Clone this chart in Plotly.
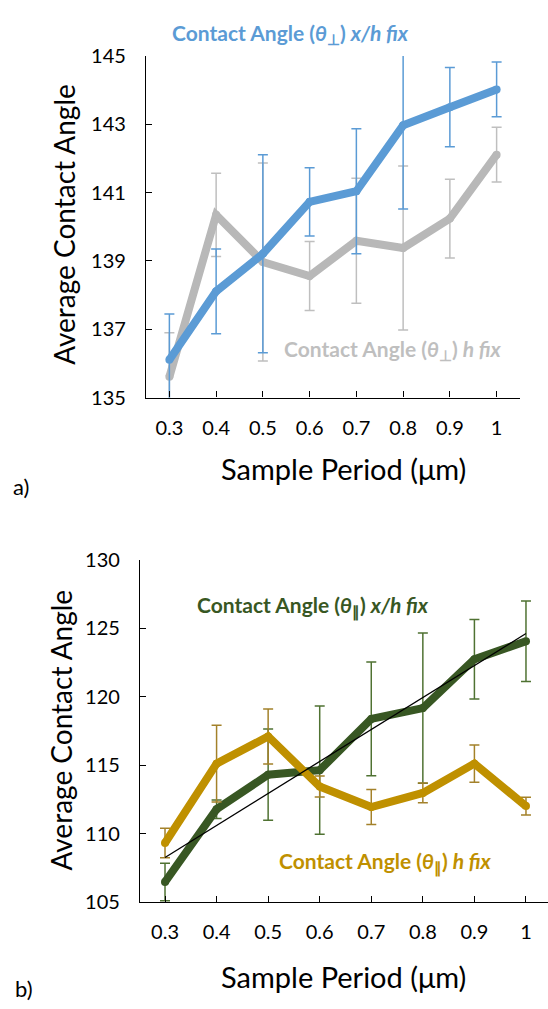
import numpy as np
import plotly.graph_objects as go

# ---------------- data ----------------
periods = [0.3, 0.4, 0.5, 0.6, 0.7, 0.8, 0.9, 1.0]
period_labels = ["0.3", "0.4", "0.5", "0.6", "0.7", "0.8", "0.9", "1"]

# (a) perpendicular contact angle
perp_xh_fix = [136.11, 138.11, 139.21, 140.73, 141.04, 142.97, 143.50, 144.02]
perp_xh_err = [1.34, 1.24, 2.90, 1.00, 1.83, 2.45, 1.16, 0.80]
perp_h_fix = [135.61, 140.35, 138.97, 138.56, 139.59, 139.38, 140.24, 142.11]
perp_h_err = [1.29, 1.22, 2.90, 1.01, 1.83, 2.40, 1.15, 0.80]

# (b) parallel contact angle
par_xh_fix = [106.48, 111.79, 114.31, 114.64, 118.38, 119.17, 122.74, 124.05]
par_xh_err = [1.37, 0.68, 3.33, 4.68, 4.15, 5.48, 2.90, 2.93]
par_h_fix = [109.33, 115.12, 117.10, 113.45, 111.95, 112.98, 115.12, 112.02]
par_h_err = [1.07, 2.80, 2.00, 0.77, 1.28, 0.72, 1.35, 0.65]

top_yticks = [135, 137, 139, 141, 143, 145]
bot_yticks = [105, 110, 115, 120, 125, 130]

# ---------------- styling ----------------
W, H = 548, 1009
FONT = "Lato"
BLUE = "#5B9BD5"
GRAY = "#B8B8B8"
GRAY_ERR = "#BFBFBF"
GREEN = "#385723"
GREEN_ERR = "#4F7232"
GOLD = "#BF9000"
GOLD_ERR = "#A3812A"


def px(x):
    return x / W


def py(y):
    return 1 - y / H


fig = go.Figure()


def add_series(xa, ya, y, err, color, err_color):
    fig.add_trace(go.Scatter(
        x=periods, y=y, xaxis=xa, yaxis=ya, mode="lines+markers",
        line=dict(color=color, width=8),
        marker=dict(color=color, size=8),
        error_y=dict(type="data", array=err, visible=True, color=err_color,
                     thickness=1.5, width=5),
        showlegend=False, hoverinfo="skip",
    ))


# top chart
add_series("x", "y", perp_h_fix, perp_h_err, GRAY, GRAY_ERR)
add_series("x", "y", perp_xh_fix, perp_xh_err, BLUE, BLUE)
# bottom chart
add_series("x2", "y2", par_xh_fix, par_xh_err, GREEN, GREEN_ERR)
add_series("x2", "y2", par_h_fix, par_h_err, GOLD, GOLD_ERR)

# linear trendline of the x/h fix parallel series
slope, intercept = np.polyfit(periods, par_xh_fix, 1)
trend_x = [periods[0], periods[-1]]
trend_y = [slope * v + intercept for v in trend_x]
fig.add_trace(go.Scatter(
    x=trend_x, y=trend_y, xaxis="x2", yaxis="y2", mode="lines",
    line=dict(color="black", width=1.3), showlegend=False, hoverinfo="skip",
))

axis_common = dict(
    showline=True, linecolor="black", linewidth=1.3, mirror=False,
    ticks="inside", ticklen=6, tickwidth=1.3, tickcolor="black",
    showgrid=False, zeroline=False,
    tickfont=dict(family=FONT, size=20, color="black"),
)

fig.update_layout(
    width=W, height=H,
    margin=dict(l=0, r=0, t=0, b=0),
    paper_bgcolor="white", plot_bgcolor="white",
    xaxis=dict(domain=[px(146), px(520)], range=[0.25, 1.05],
               tickvals=periods, ticktext=period_labels,
               anchor="y", ticklabelstandoff=12, **axis_common),
    yaxis=dict(domain=[py(394), py(44)], range=[135, 145],
               tickvals=top_yticks, anchor="x", ticklabelstandoff=15,
               **axis_common),
    xaxis2=dict(domain=[px(140), 1.0], range=[0.2515, 1.0427],
                tickvals=periods, ticktext=period_labels,
                anchor="y2", ticklabelstandoff=12, **axis_common),
    yaxis2=dict(domain=[py(911), py(560)], range=[105, 130],
                tickvals=bot_yticks, anchor="x2", ticklabelstandoff=15,
                **axis_common),
)


def ann(text, x, y, size, color="black", angle=0, xanchor="center"):
    fig.add_annotation(
        text=text, x=px(x), y=py(y), xref="paper", yref="paper",
        showarrow=False, textangle=angle, xanchor=xanchor, yanchor="middle",
        font=dict(family=FONT, size=size, color=color),
    )


ann("<b>Contact Angle (<i>θ</i><sub>⊥</sub>) <i>x/h fix</i></b>", 290, 22, 21, BLUE)
ann("<b>Contact Angle (<i>θ</i><sub>⊥</sub>) <i>h fix</i></b>", 393, 345, 21, GRAY_ERR)
ann("<b>Contact Angle (<i>θ</i><sub>∥</sub>) <i>x/h fix</i></b>", 313, 608, 21, GREEN)
ann("<b>Contact Angle (<i>θ</i><sub>∥</sub>) <i>h fix</i></b>", 385, 870, 21, GOLD)

ann("Average Contact Angle", 64, 217, 28, angle=-90)
ann("Average Contact Angle", 61, 735, 28, angle=-90)
ann("Sample Period (μm)", 343, 467, 29)
ann("Sample Period (μm)", 343, 987, 29)
ann("a)", 21, 485, 22)
ann("b)", 24, 999, 22)

fig.write_html("out.html")
